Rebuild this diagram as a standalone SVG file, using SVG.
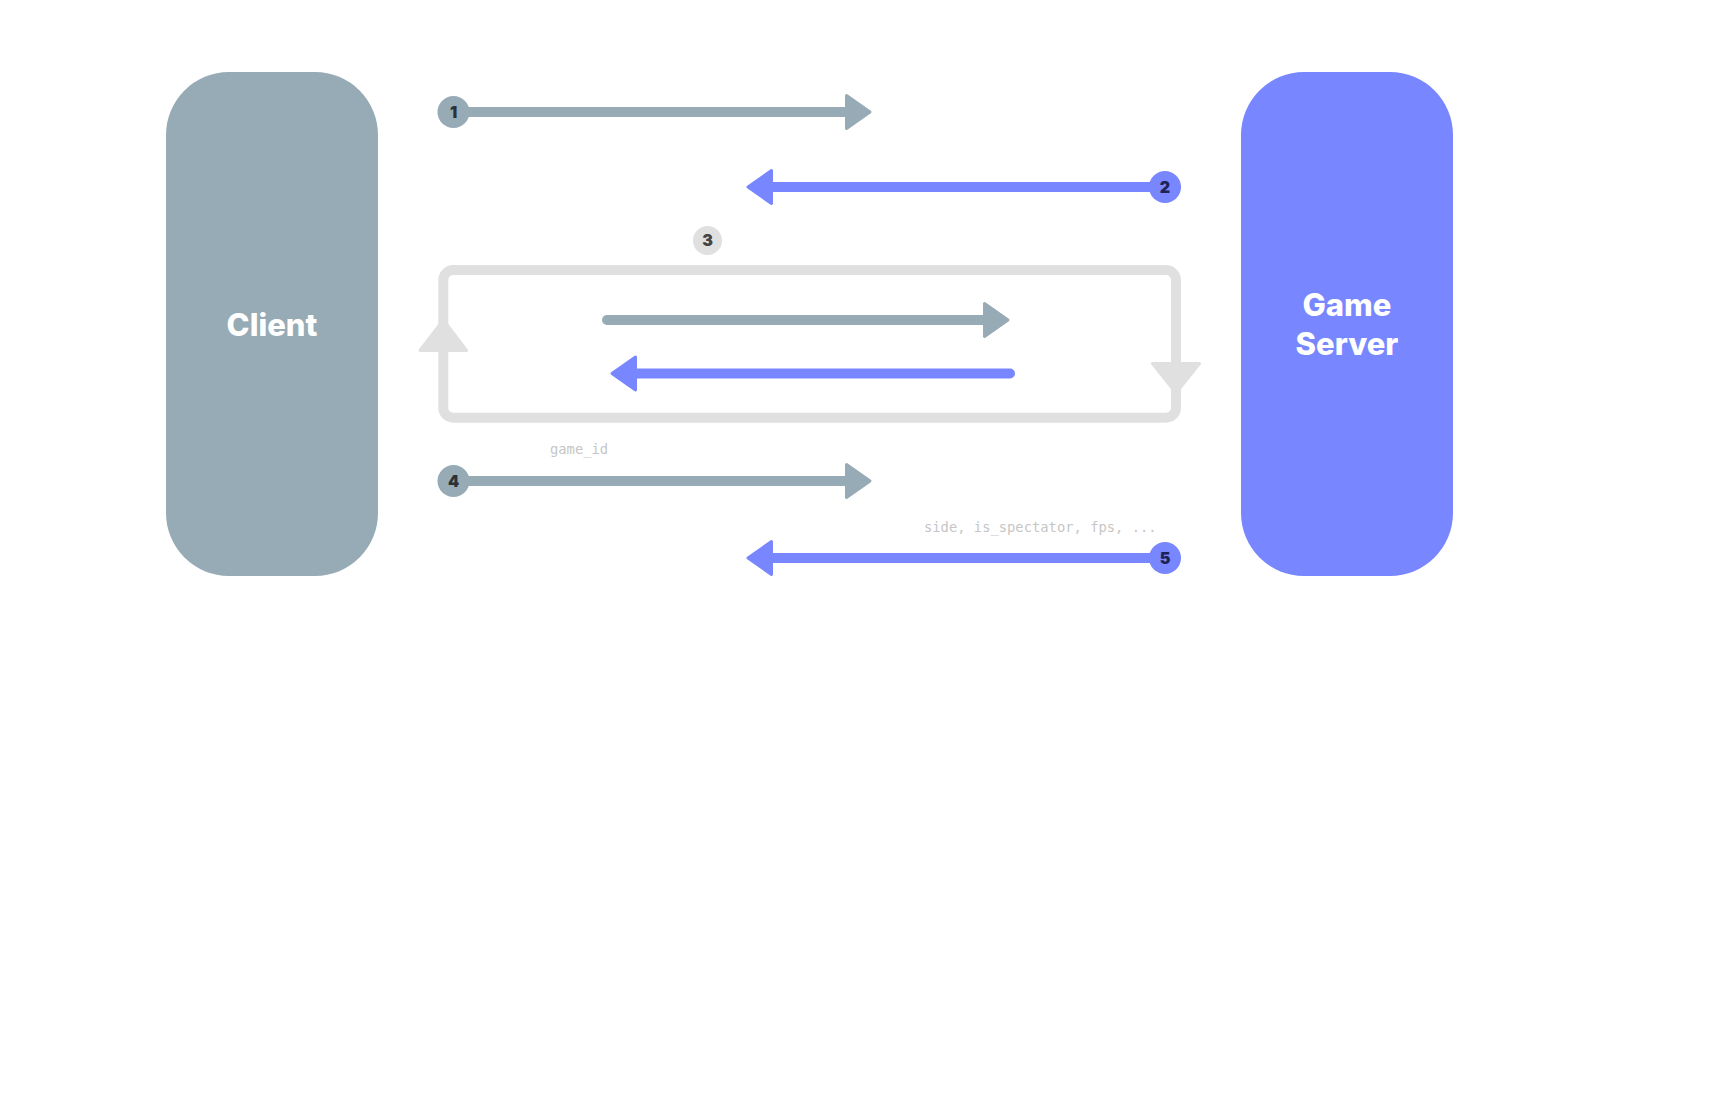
<svg xmlns="http://www.w3.org/2000/svg" width="1730" height="1119" viewBox="0 0 1730 1119">
<style>
.node-label{font-family:Inter,"Noto Sans","Liberation Sans",sans-serif;font-weight:800;font-size:31px;fill:#ffffff;text-anchor:middle}
.num{font-family:Inter,"Noto Sans","Liberation Sans",sans-serif;font-weight:900;font-size:16px;text-anchor:middle}
.mono{font-family:"DejaVu Sans Mono","Liberation Mono",monospace;font-size:13.8px;fill:#c6c6c6}
.gline{stroke:#96abb5;stroke-width:10;fill:none}
.bline{stroke:#7886ff;stroke-width:10;fill:none}
.ghead{fill:#96abb5;stroke:#96abb5;stroke-width:3;stroke-linejoin:round}
.bhead{fill:#7886ff;stroke:#7886ff;stroke-width:3;stroke-linejoin:round}
.lhead{fill:#e0e0e0;stroke:#e0e0e0;stroke-width:3;stroke-linejoin:round}
</style>
<rect width="1730" height="1119" fill="#ffffff"/>
<g id="client">
<rect x="166" y="72" width="212" height="504" rx="63" ry="63" fill="#96abb5"/>
<text class="node-label" x="272" y="335.5">Client</text>
</g>
<g id="game-server">
<rect x="1241" y="72" width="212" height="504" rx="63" ry="63" fill="#7886ff"/>
<text class="node-label" x="1347" y="316">Game</text>
<text class="node-label" x="1347" y="355">Server</text>
</g>
<g id="connectors">
<!-- 1 -->
<line class="gline" x1="453" y1="112" x2="848" y2="112"/>
<polygon class="ghead" points="846.5,95.5 870,112 846.5,128.5"/>
<!-- 2 -->
<line class="bline" x1="770" y1="187" x2="1165" y2="187"/>
<polygon class="bhead" points="771.5,170.5 748,187 771.5,203.5"/>
<!-- 3 loop -->
<rect x="443.3" y="270" width="732.7" height="147.7" rx="10" ry="10" fill="none" stroke="#e0e0e0" stroke-width="10"/>
<polygon class="lhead" points="420,350.5 443.3,320 466.6,350.5"/>
<polygon class="lhead" points="1152.5,363.5 1199.5,363.5 1176,393"/>
<line class="gline" x1="607" y1="320" x2="986" y2="320" stroke-linecap="round"/>
<polygon class="ghead" points="984.5,303.5 1008,320 984.5,336.5"/>
<line class="bline" x1="634" y1="373.5" x2="1010" y2="373.5" stroke-linecap="round"/>
<polygon class="bhead" points="635.5,357 612,373.5 635.5,390"/>
<!-- 4 -->
<line class="gline" x1="453" y1="481" x2="848" y2="481"/>
<polygon class="ghead" points="846.5,464.5 870,481 846.5,497.5"/>
<!-- 5 -->
<line class="bline" x1="770" y1="558" x2="1165" y2="558"/>
<polygon class="bhead" points="771.5,541.5 748,558 771.5,574.5"/>
</g>
<g id="badge-1">
<circle cx="453.5" cy="112" r="16" fill="#96abb5"/>
<text class="num" x="453.5" y="117.8" fill="#2b3135">1</text>
</g>
<g id="badge-2">
<circle cx="1165" cy="187" r="16" fill="#7886ff"/>
<text class="num" x="1165" y="192.8" fill="#1f2255">2</text>
</g>
<g id="badge-3">
<circle cx="707.5" cy="240.5" r="14.5" fill="#e0e0e0"/>
<text class="num" x="707.5" y="246.3" fill="#444444">3</text>
</g>
<g id="badge-4">
<circle cx="453.5" cy="481" r="16" fill="#96abb5"/>
<text class="num" x="453.5" y="486.8" fill="#2b3135">4</text>
</g>
<g id="badge-5">
<circle cx="1165" cy="558" r="16" fill="#7886ff"/>
<text class="num" x="1165" y="563.8" fill="#1f2255">5</text>
</g>
<g id="labels">
<text class="mono" x="550" y="454">game_id</text>
<text class="mono" x="924" y="531.5">side, is_spectator, fps, ...</text>
</g>
</svg>
